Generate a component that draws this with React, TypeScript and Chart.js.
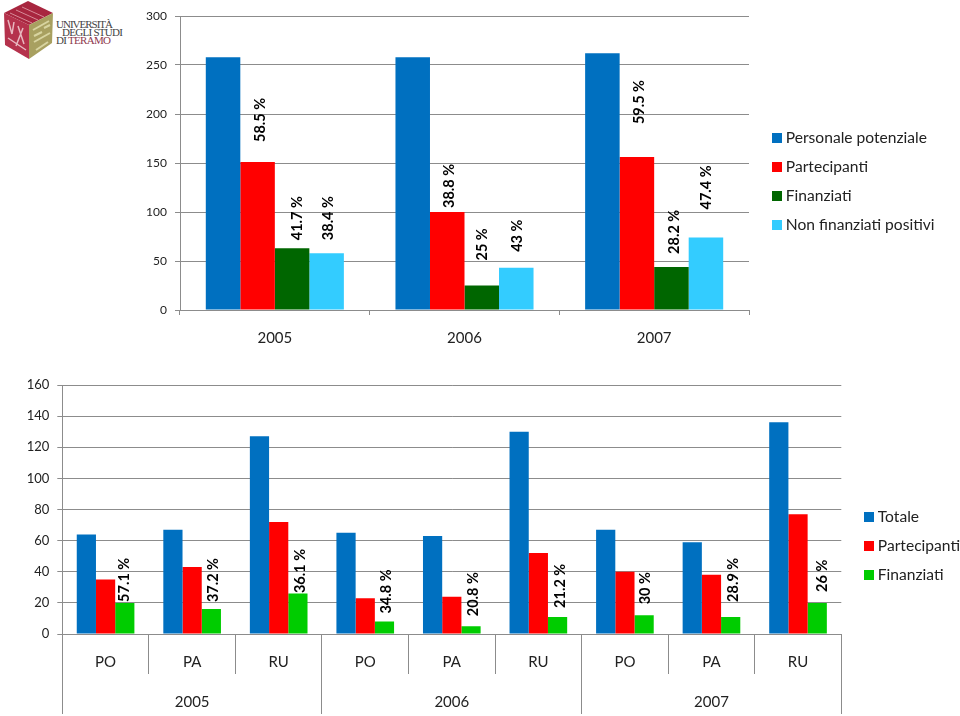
import React, { useEffect, useRef } from "react";
import { Chart, registerables } from "chart.js";

Chart.register(...registerables);

const FONT = "Lato, 'Open Sans', sans-serif";
const GRID = "#8C8C8C";
const BLUE = "#0070C0";
const RED = "#FF0000";
const DARK_GREEN = "#006600";
const SKY = "#33CCFF";
const GREEN = "#00CC00";

// Top chart data
const topYears = ["2005", "2006", "2007"];
const topPersonale = [258, 258, 262];
const topPartecipanti = [151, 100, 156];
const topFinanziati = [63, 25, 44];
const topNonFinanziati = [58, 43, 74];
const topPartLabels = ["58.5 %", "38.8 %", "59.5 %"];
const topFinLabels = ["41.7 %", "25 %", "28.2 %"];
const topNonLabels = ["38.4 %", "43 %", "47.4 %"];

// Bottom chart data
const roles = ["PO", "PA", "RU", "PO", "PA", "RU", "PO", "PA", "RU"];
const bottomYears = ["2005", "2006", "2007"];
const bottomTotale = [64, 67, 127, 65, 63, 130, 67, 59, 136];
const bottomPartecipanti = [35, 43, 72, 23, 24, 52, 40, 38, 77];
const bottomFinanziati = [20, 16, 26, 8, 5, 11, 12, 11, 20];
const bottomLabels = ["57.1 %", "37.2 %", "36.1 %", "34.8 %", "20.8 %", "21.2 %", "30 %", "28.9 %", "26 %"];

// Hand-placed annotation offsets: [dx from bar centre, gap above bar top]
const topPartOffsets = [[3, 20], [2.5, 4], [2, 33]];
const topFinOffsets = [[5, 8], [1, 25], [3, 13]];
const topNonOffsets = [[2, 13], [1, 16], [0, 28]];
const bottomOffsets = [[0, 1], [2, 7], [2, 0.5], [2, 8], [2, 10], [3, 9], [1, 11], [3, 15], [5, 11]];

type LabelSet = { dataset: number; texts: string[]; offsets: number[][] };

const swatch = (color: string) => {
  const c = document.createElement("canvas");
  c.width = 10;
  c.height = 10;
  const g = c.getContext("2d")!;
  g.fillStyle = color;
  g.fillRect(0, 0, 10, 10);
  return c;
};

const annotationPlugin = (sets: LabelSet[], font: string) => ({
  id: "annotations",
  afterDatasetsDraw(chart: any) {
    const ctx = chart.ctx;
    ctx.save();
    ctx.font = font;
    ctx.fillStyle = "#000";
    ctx.textAlign = "left";
    ctx.textBaseline = "middle";
    sets.forEach((s) => {
      const meta = chart.getDatasetMeta(s.dataset);
      s.texts.forEach((t, i) => {
        const el = meta.data[i];
        ctx.save();
        ctx.translate(el.x + s.offsets[i][0], el.y - s.offsets[i][1]);
        ctx.rotate(-Math.PI / 2);
        ctx.fillText(t, 0, 0);
        ctx.restore();
      });
    });
    ctx.restore();
  },
});

const legendPlacer = (width: number, left: number, top: number) => ({
  id: "legendPlacer",
  beforeLayout(chart: any) {
    const legend = chart.legend;
    if (!legend.__fitWrapped) {
      const fit = legend.fit.bind(legend);
      legend.fit = () => {
        fit();
        legend.width = width;
      };
      legend.__fitWrapped = true;
    }
  },
  beforeDraw(chart: any) {
    chart.legend.left = left;
    chart.legend.top = top;
  },
});

const legendOptions = (colors: string[], size: number) => ({
  display: true,
  position: "right" as const,
  align: "start" as const,
  labels: {
    color: "#222",
    font: { family: FONT, size },
    padding: 13.5,
    usePointStyle: true,
    pointStyleWidth: 3,
    generateLabels: (chart: any) =>
      (Chart.defaults.plugins.legend.labels as any)
        .generateLabels(chart)
        .map((it: any, i: number) => ({ ...it, pointStyle: swatch(colors[i]) })),
  },
});

const yAxis = (max: number, step: number, width: number, size: number) => ({
  min: 0,
  max,
  ticks: { stepSize: step, color: "#222", padding: 8, font: { family: FONT, size } },
  grid: { color: GRID, tickColor: GRID, tickLength: 5, lineWidth: 1 },
  border: { color: GRID },
  afterFit: (s: any) => {
    s.width = width;
  },
});

function useChart(ref: React.RefObject<HTMLCanvasElement | null>, make: (c: HTMLCanvasElement) => Chart) {
  useEffect(() => {
    const chart = make(ref.current!);
    return () => chart.destroy();
  }, []);
}

export default function App() {
  const topRef = useRef<HTMLCanvasElement>(null);
  const bottomRef = useRef<HTMLCanvasElement>(null);

  useChart(topRef, (c) =>
    new Chart(c, {
      type: "bar",
      data: {
        labels: topYears,
        datasets: [
          { label: "Personale potenziale", data: topPersonale, backgroundColor: BLUE },
          { label: "Partecipanti", data: topPartecipanti, backgroundColor: RED },
          { label: "Finanziati", data: topFinanziati, backgroundColor: DARK_GREEN },
          { label: "Non finanziati positivi", data: topNonFinanziati, backgroundColor: SKY },
        ],
      },
      options: {
        animation: false,
        responsive: false,
        layout: { padding: { top: 16, right: 0, left: 0, bottom: 0 } },
        datasets: { bar: { barPercentage: 1, categoryPercentage: 0.728 } },
        plugins: {
          legend: legendOptions([BLUE, RED, DARK_GREEN, SKY], 15.6) as any,
          tooltip: { enabled: false },
        },
        scales: {
          x: {
            ticks: { color: "#222", padding: 14, maxRotation: 0, font: { family: FONT, size: 15 } },
            grid: { drawOnChartArea: false, tickColor: GRID, tickLength: 5, offset: true },
            border: { color: GRID },
            afterFit: (s: any) => {
              s.height = 50;
            },
          },
          y: yAxis(300, 50, 180, 12),
        },
      } as any,
      plugins: [
        legendPlacer(211, 761.5, 116.5),
        annotationPlugin(
          [
            { dataset: 1, texts: topPartLabels, offsets: topPartOffsets },
            { dataset: 2, texts: topFinLabels, offsets: topFinOffsets },
            { dataset: 3, texts: topNonLabels, offsets: topNonOffsets },
          ],
          `bold 14.5px ${FONT}`
        ) as any,
      ],
    })
  );

  useChart(bottomRef, (c) =>
    new Chart(c, {
      type: "bar",
      data: {
        labels: roles,
        datasets: [
          { label: "Totale", data: bottomTotale, backgroundColor: BLUE },
          { label: "Partecipanti", data: bottomPartecipanti, backgroundColor: RED },
          { label: "Finanziati", data: bottomFinanziati, backgroundColor: GREEN },
        ],
      },
      options: {
        animation: false,
        responsive: false,
        layout: { padding: { top: 25, right: 0, left: 0, bottom: 2 } },
        datasets: { bar: { barPercentage: 1, categoryPercentage: 0.666 } },
        plugins: {
          legend: legendOptions([BLUE, RED, GREEN], 15.6) as any,
          tooltip: { enabled: false },
        },
        scales: {
          x: {
            ticks: { color: "#222", padding: -21, maxRotation: 0, autoSkip: false, font: { family: FONT, size: 15 } },
            grid: { drawOnChartArea: false, tickColor: GRID, tickLength: 40, offset: true },
            border: { color: GRID },
            afterFit: (s: any) => {
              s.height = 40;
            },
          },
          x2: {
            type: "category",
            position: "bottom",
            labels: bottomYears,
            offset: true,
            ticks: { color: "#222", padding: -21, maxRotation: 0, font: { family: FONT, size: 15 } },
            grid: { drawOnChartArea: false, tickColor: GRID, tickLength: 40, offset: true },
            border: { display: false },
            afterFit: (s: any) => {
              s.height = 40;
            },
          },
          y: yAxis(160, 20, 62.3, 13),
        },
      } as any,
      plugins: [
        legendPlacer(118.7, 853.5, 135.5),
        annotationPlugin([{ dataset: 2, texts: bottomLabels, offsets: bottomOffsets }], `bold 14.5px ${FONT}`) as any,
      ],
    })
  );

  return (
    <div style={{ position: "absolute", left: 0, top: 0, width: 960, height: 716, background: "#fff", overflow: "hidden" }}>
      <svg width={130} height={62} style={{ position: "absolute", left: 0, top: 0 }}>
        <polygon points="28,1 53,13 29,25 4,13" fill="#A8263F" />
        <polygon points="4,13 29,25 29,59 5,45" fill="#B5324C" />
        <polygon points="29,25 53,13 52,43 29,59" fill="#A8A060" />
        <path d="M16,10 L38,20 M22,7 L44,17 M10,13 L32,23" stroke="#D88A98" strokeWidth={1} />
        <path d="M8,20 L12,34 M14,22 L12,34 M18,26 L24,44 M23,28 L16,46 M8,38 L26,50" stroke="#E8B8C0" strokeWidth={1.5} fill="none" />
        <path d="M33,30 L49,21 M34,36 L42,32 M44,28 L50,25 M34,42 L50,33 M36,50 L48,42" stroke="#D8D4A0" strokeWidth={2} fill="none" />
        <text x={56} y={28} fontFamily="'Liberation Serif'" fontSize={11} fill="#444" textLength={57}>UNIVERSITÀ</text>
        <text x={62} y={36} fontFamily="'Liberation Serif'" fontSize={11} fill="#444" textLength={61}>DEGLI STUDI</text>
        <text x={56} y={44} fontFamily="'Liberation Serif'" fontSize={11} fill="#444" textLength={55}>
          DI <tspan fill="#8E3A4E">TERAMO</tspan>
        </text>
      </svg>
      <canvas ref={topRef} width={960} height={360} style={{ position: "absolute", left: 0, top: 0, display: "block" }} />
      <canvas ref={bottomRef} width={960} height={356} style={{ position: "absolute", left: 0, top: 360, display: "block" }} />
    </div>
  );
}
